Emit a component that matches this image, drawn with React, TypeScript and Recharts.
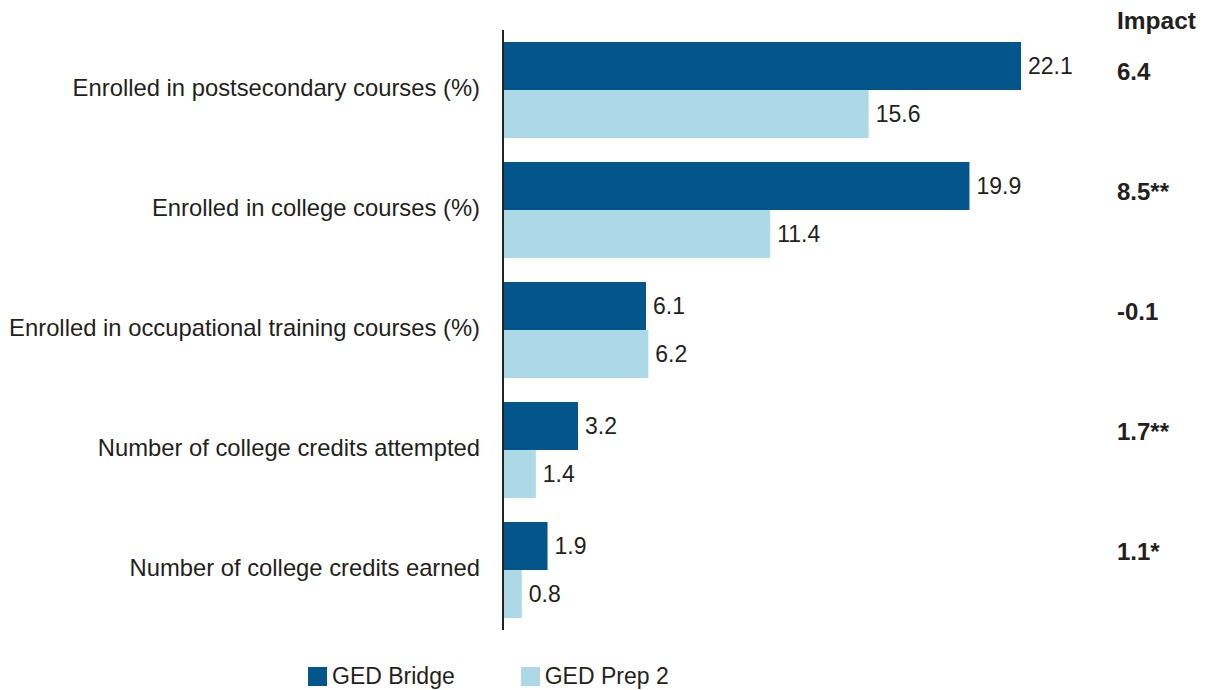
import { BarChart, Bar, XAxis, YAxis, LabelList, Legend } from 'recharts'

const categories = [
  'Enrolled in postsecondary courses (%)',
  'Enrolled in college courses (%)',
  'Enrolled in occupational training courses (%)',
  'Number of college credits attempted',
  'Number of college credits earned',
]
const gedBridge = [22.1, 19.9, 6.1, 3.2, 1.9]
const gedPrep2 = [15.6, 11.4, 6.2, 1.4, 0.8]
const impact = ['6.4', '8.5**', '-0.1', '1.7**', '1.1*']

const DARK = '#02568b'
const LIGHT = '#add8e6'
const TEXT = '#231f20'
const FONT = '"Liberation Sans", Arial, Helvetica, sans-serif'

const data = categories.map((name, i) => ({
  name,
  bridge: gedBridge[i],
  prep: gedPrep2[i],
}))

function ImpactTick({ x, y, payload }: any) {
  const i = categories.indexOf(payload.value)
  return (
    <text x={x} y={y - 19} dy="0.355em" textAnchor="start" fill={TEXT} fontSize={24} fontWeight="bold">
      {impact[i]}
    </text>
  )
}

function LegendContent() {
  const items = [
    { label: 'GED Bridge', color: DARK },
    { label: 'GED Prep 2', color: LIGHT },
  ]
  return (
    <div style={{ display: 'flex', gap: 66, alignItems: 'center' }}>
      {items.map(it => (
        <div key={it.label} style={{ display: 'flex', alignItems: 'center', gap: 5 }}>
          <span style={{ width: 19, height: 19, background: it.color, display: 'inline-block' }} />
          <span style={{ fontSize: 23, color: TEXT, lineHeight: '26px' }}>{it.label}</span>
        </div>
      ))}
    </div>
  )
}

export default function App() {
  return (
    <div style={{ position: 'absolute', left: 0, top: 0, width: 1206, height: 690, background: '#fff', fontFamily: FONT }}>
      <div style={{ position: 'absolute', left: 1117, top: 7, fontSize: 24.5, fontWeight: 'bold', color: TEXT }}>Impact</div>
      <BarChart
        width={1206}
        height={690}
        data={data}
        layout="vertical"
        margin={{ top: 30, right: 0, bottom: 60, left: 0 }}
        barGap={0}
      >
        <XAxis type="number" domain={[0, 25]} hide />
        <YAxis
          yAxisId="left"
          type="category"
          dataKey="name"
          width={503}
          tickLine={false}
          tickMargin={17}
          axisLine={{ stroke: '#222', strokeWidth: 2 }}
          tick={{ fontSize: 23.8, fill: TEXT, dy: -2 }}
        />
        <YAxis
          yAxisId="right"
          orientation="right"
          type="category"
          dataKey="name"
          width={117}
          tickLine={false}
          axisLine={false}
          tickMargin={22}
          tick={<ImpactTick />}
        />
        <Legend
          layout="horizontal"
          verticalAlign="middle"
          align="center"
          content={<LegendContent />}
          wrapperStyle={{ top: 663, left: 308, width: 'auto' }}
        />
        <Bar yAxisId="left" dataKey="bridge" name="GED Bridge" fill={DARK} barSize={48} isAnimationActive={false}>
          <LabelList dataKey="bridge" position="right" offset={7} fill={TEXT} fontSize={23} />
        </Bar>
        <Bar yAxisId="left" dataKey="prep" name="GED Prep 2" fill={LIGHT} barSize={48} isAnimationActive={false}>
          <LabelList dataKey="prep" position="right" offset={7} fill={TEXT} fontSize={23} />
        </Bar>
      </BarChart>
    </div>
  )
}
